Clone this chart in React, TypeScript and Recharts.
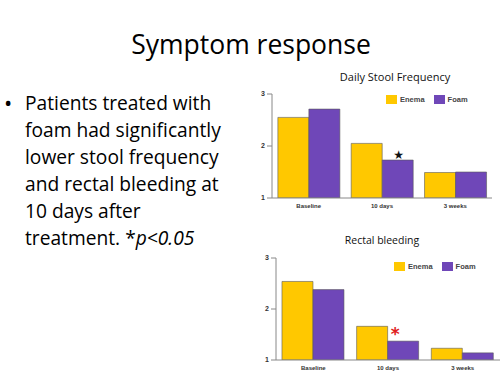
import { BarChart, Bar, XAxis, YAxis, LabelList } from "recharts";

const timepoints = ["Baseline", "10 days", "3 weeks"];
const stoolEnema = [2.55, 2.05, 1.49];
const stoolFoam = [2.71, 1.73, 1.5];
const bleedEnema = [2.54, 1.66, 1.23];
const bleedFoam = [2.38, 1.37, 1.14];
const significance = ["", "*", ""];
const yTicks = [1, 2, 3];

const ENEMA = "#FFC800";
const FOAM = "#6F47B8";
const FONT = "'Open Sans', 'Noto Sans', sans-serif";

const bulletLines = [
  "Patients treated with",
  "foam had significantly",
  "lower stool frequency",
  "and rectal bleeding at",
  "10 days after",
];

function build(enema: number[], foam: number[]) {
  return timepoints.map((t, i) => ({
    name: t,
    enema: enema[i],
    foam: foam[i],
    star: significance[i],
  }));
}

function LegendBox({ left, top }: { left: number; top: number }) {
  const item = (label: string, color: string) => (
    <div style={{ display: "flex", alignItems: "center", marginRight: 9 }}>
      <div style={{ width: 11, height: 9, background: color, marginRight: 3 }} />
      <span style={{ fontSize: 7.5, fontWeight: 700, color: "#444", fontFamily: "'Liberation Sans', Arial, sans-serif" }}>
        {label}
      </span>
    </div>
  );
  return (
    <div style={{ position: "absolute", left, top, display: "flex" }}>
      {item("Enema", ENEMA)}
      {item("Foam", FOAM)}
    </div>
  );
}

function SymptomChart({
  data,
  width,
  height,
  margin,
  starColor,
  starChar,
  starSize,
  starDx,
}: {
  data: ReturnType<typeof build>;
  width: number;
  height: number;
  margin: { top: number; right: number; left: number; bottom: number };
  starColor: string;
  starChar: string;
  starSize: number;
  starDx: number;
}) {
  const tickStyle = {
    fill: "#333",
    fontSize: 7,
    fontWeight: 700,
    fontFamily: "'Liberation Sans', Arial, sans-serif",
  };
  return (
    <BarChart
      width={width}
      height={height}
      data={data}
      margin={margin}
      barGap={0}
      barCategoryGap="8%"
    >
      <XAxis
        dataKey="name"
        tickLine={false}
        stroke="#888"
        tickSize={0}
        tickMargin={6}
        height={14}
        tick={{ ...tickStyle, fontSize: 6 }}
      />
      <YAxis
        domain={[1, 3]}
        ticks={yTicks}
        width={32}
        stroke="#888"
        tickSize={5}
        tickMargin={2}
        tick={tickStyle}
        allowDataOverflow
      />
      <Bar dataKey="enema" fill={ENEMA} stroke="#5a5a5a" strokeWidth={0.6} isAnimationActive={false} />
      <Bar dataKey="foam" fill={FOAM} stroke="#5a5a5a" strokeWidth={0.6} isAnimationActive={false}>
        <LabelList
          dataKey="star"
          position="top"
          offset={1}
          dx={starDx}
          formatter={(v: any) => (v ? starChar : "")}
          style={{ fill: starColor, fontSize: starSize, fontWeight: 700, fontFamily: "'DejaVu Sans', sans-serif" }}
        />
      </Bar>
    </BarChart>
  );
}

export default function App() {
  return (
    <div
      style={{
        position: "fixed",
        left: 0,
        top: 0,
        width: 502,
        height: 376,
        background: "#fff",
        fontFamily: FONT,
        overflow: "hidden",
      }}
    >
      <div
        style={{
          position: "absolute",
          left: 0,
          top: 27,
          width: 502,
          textAlign: "center",
          fontSize: 26.5,
          lineHeight: "34px",
          color: "#000",
        }}
      >
        Symptom response
      </div>

      <div style={{ position: "absolute", left: 4, top: 89, fontSize: 19.2, lineHeight: "27px", color: "#000" }}>
        {bulletLines.map((l, i) => (
          <div key={i} style={{ position: "relative", paddingLeft: 21, whiteSpace: "nowrap" }}>
            {i === 0 && <span style={{ position: "absolute", left: 0, fontSize: 22 }}>•</span>}
            {l}
          </div>
        ))}
        <div style={{ paddingLeft: 21, whiteSpace: "nowrap" }}>
          treatment. *<i>p&lt;0.05</i>
        </div>
      </div>

      <div
        style={{
          position: "absolute",
          left: 320,
          top: 69,
          width: 150,
          textAlign: "center",
          fontSize: 11,
          color: "#111",
        }}
      >
        Daily Stool Frequency
      </div>
      <div style={{ position: "absolute", left: 240, top: 88 }}>
        <SymptomChart
          data={build(stoolEnema, stoolFoam)}
          width={260}
          height={130}
          margin={{ top: 6, right: 8, left: 0, bottom: 6 }}
          starColor="#111"
          starChar="★"
          starSize={12}
          starDx={1}
        />
      </div>
      <LegendBox left={386} top={95} />

      <div
        style={{
          position: "absolute",
          left: 307,
          top: 233,
          width: 150,
          textAlign: "center",
          fontSize: 10.5,
          color: "#111",
        }}
      >
        Rectal bleeding
      </div>
      <div style={{ position: "absolute", left: 244, top: 252 }}>
        <SymptomChart
          data={build(bleedEnema, bleedFoam)}
          width={258}
          height={124}
          margin={{ top: 6, right: 2, left: 0, bottom: 2 }}
          starColor="#e02020"
          starChar="*"
          starSize={17}
          starDx={-8}
        />
      </div>
      <LegendBox left={394} top={262} />
    </div>
  );
}
